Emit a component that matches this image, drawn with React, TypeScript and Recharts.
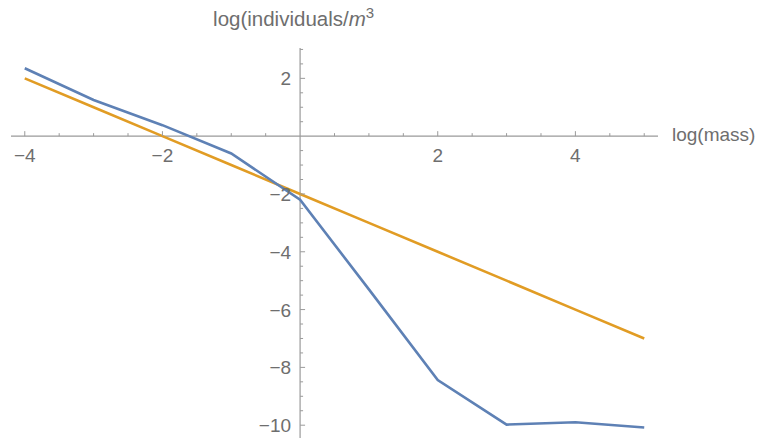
import React from "react";
import { LineChart, Line, XAxis, YAxis, ReferenceLine, ReferenceDot } from "recharts";

const massLog = [-4, -3, -2, -1, 0, 1, 2, 3, 4, 5];
const observed = [2.35, 1.25, 0.38, -0.6, -2.2, -5.3, -8.44, -9.98, -9.9, -10.08];
const fitted = [2, 1, 0, -1, -2, -3, -4, -5, -6, -7];

const xMinorTicks = [-4, -3.5, -3, -2.5, -2, -1.5, -1, -0.5, 0.5, 1, 1.5, 2, 2.5, 3, 3.5, 4, 4.5, 5];
const xLabelTicks = [-4, -2, 2, 4];
const yMinorTicks = [3, 2.5, 2, 1.5, 1, 0.5, -0.5, -1, -1.5, -2, -2.5, -3, -3.5, -4, -4.5, -5, -5.5, -6, -6.5, -7, -7.5, -8, -8.5, -9, -9.5, -10, -10.5];
const yLabelTicks = [2, -2, -4, -6, -8, -10];

const X_DOMAIN: [number, number] = [-4.2, 5.2];
const Y_DOMAIN: [number, number] = [-10.72, 3.05];

const data = massLog.map((m, i) => ({ m, observed: observed[i], fitted: fitted[i] }));

const AXIS = "#9a9a9a";
const TEXT = "#6e6e6e";
const FONT = "'Liberation Sans', Arial, sans-serif";
const TICK_FS = 19;
const LABEL_FS = 20.5;
const XLABEL_FS = 19;

const fmt = (v: number) => (v < 0 ? "\u2212" + Math.abs(v) : String(v));

export default function App() {
  return (
    <div style={{ margin: -8, width: 767, height: 446 }}>
      <LineChart
        width={767}
        height={446}
        data={data}
        margin={{ top: 48, right: 109, bottom: 0, left: 11 }}
        style={{ fontFamily: FONT }}
      >
        <XAxis dataKey="m" type="number" domain={X_DOMAIN} allowDataOverflow hide />
        <YAxis type="number" domain={Y_DOMAIN} allowDataOverflow hide />
        <ReferenceLine y={0} stroke={AXIS} strokeWidth={1.2} />
        <ReferenceLine x={0} stroke={AXIS} strokeWidth={1.2} />
        {xMinorTicks.map((t) => (
          <ReferenceDot
            key={"xt" + t}
            x={t}
            y={0}
            ifOverflow="visible"
            shape={(p: any) => {
              const major = Number.isInteger(t / 2);
              return (
                <line x1={p.cx} x2={p.cx} y1={p.cy} y2={p.cy - (major ? 5 : 3)} stroke={AXIS} strokeWidth={1} />
              );
            }}
          />
        ))}
        {xLabelTicks.map((t) => (
          <ReferenceDot
            key={"xl" + t}
            x={t}
            y={0}
            ifOverflow="visible"
            shape={(p: any) => (
              <text x={p.cx} y={p.cy + 26} textAnchor="middle" fill={TEXT} fontSize={TICK_FS} fontFamily={FONT}>
                {fmt(t)}
              </text>
            )}
          />
        ))}
        {yMinorTicks.map((t) => (
          <ReferenceDot
            key={"yt" + t}
            x={0}
            y={t}
            ifOverflow="visible"
            shape={(p: any) => {
              const major = Number.isInteger(t / 2);
              return (
                <line x1={p.cx} x2={p.cx + (major ? 5 : 3)} y1={p.cy} y2={p.cy} stroke={AXIS} strokeWidth={1} />
              );
            }}
          />
        ))}
        {yLabelTicks.map((t) => (
          <ReferenceDot
            key={"yl" + t}
            x={0}
            y={t}
            ifOverflow="visible"
            shape={(p: any) => (
              <text x={p.cx - 9} y={p.cy + 7} textAnchor="end" fill={TEXT} fontSize={TICK_FS} fontFamily={FONT}>
                {fmt(t)}
              </text>
            )}
          />
        ))}
        <ReferenceDot
          x={X_DOMAIN[1]}
          y={0}
          ifOverflow="visible"
          shape={(p: any) => (
            <text x={p.cx + 14} y={p.cy + 5} fill={TEXT} fontSize={XLABEL_FS} fontFamily={FONT}>
              log(mass)
            </text>
          )}
        />
        <ReferenceDot
          x={0}
          y={Y_DOMAIN[1]}
          ifOverflow="visible"
          shape={(p: any) => (
            <text x={p.cx - 87} y={p.cy - 22} fill={TEXT} fontSize={LABEL_FS} fontFamily={FONT}>
              log(individuals/<tspan fontStyle="italic">m</tspan>
              <tspan dy={-8} fontSize={15}>3</tspan>
            </text>
          )}
        />
        <Line dataKey="fitted" stroke="#E19C24" strokeWidth={2.6} dot={false} isAnimationActive={false} />
        <Line dataKey="observed" stroke="#5E81B5" strokeWidth={2.6} dot={false} isAnimationActive={false} />
      </LineChart>
    </div>
  );
}
